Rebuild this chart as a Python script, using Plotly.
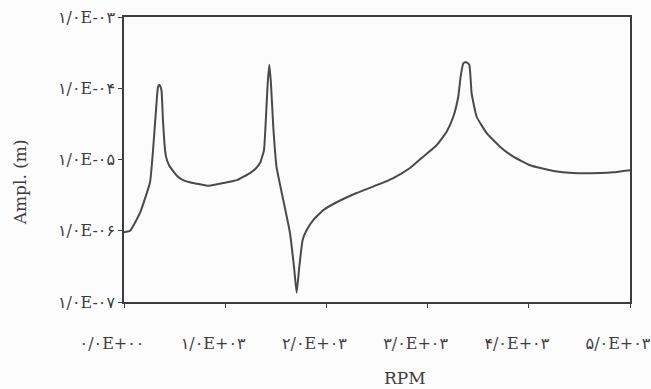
import plotly.graph_objects as go

# Rotor response: amplitude vs shaft speed
rpm = [0, 60, 158, 257, 287, 316, 336, 349, 362, 372, 385, 400, 415, 445, 484,
       530, 583, 650, 721, 830, 978, 1116, 1245, 1300, 1344, 1383, 1403, 1420,
       1436, 1452, 1475, 1508, 1574, 1640, 1680, 1706, 1732, 1765, 1805, 1870,
       1970, 2101, 2299, 2497, 2661, 2826, 2957, 3089, 3188, 3254, 3303, 3326,
       3353, 3379, 3412, 3435, 3485, 3584, 3715, 3847, 4012, 4242, 4439, 4703,
       4835, 5000]
log_ampl = [-6.02, -6.0, -5.75, -5.32, -4.87, -4.31, -3.98, -3.95, -3.98, -4.05,
            -4.45, -4.78, -4.96, -5.08, -5.16, -5.24, -5.29, -5.32, -5.34, -5.37,
            -5.33, -5.29, -5.19, -5.13, -5.05, -4.87, -4.40, -3.93, -3.67, -3.93,
            -4.54, -5.11, -5.57, -6.03, -6.51, -6.87, -6.51, -6.13, -5.99, -5.85,
            -5.71, -5.60, -5.47, -5.36, -5.26, -5.12, -4.96, -4.80, -4.61, -4.40,
            -4.12, -3.84, -3.65, -3.63, -3.67, -4.07, -4.40, -4.63, -4.82, -4.96,
            -5.08, -5.16, -5.19, -5.19, -5.18, -5.15]
ampl = [10 ** v for v in log_ampl]

x_tickvals = [0, 1000, 2000, 3000, 4000, 5000]
x_ticktext = ["۰/۰E+۰۰", "۱/۰E+۰۳", "۲/۰E+۰۳", "۳/۰E+۰۳", "۴/۰E+۰۳", "۵/۰E+۰۳"]
y_tickvals = [1e-3, 1e-4, 1e-5, 1e-6, 1e-7]
y_ticktext = ["۱/۰E-۰۳", "۱/۰E-۰۴", "۱/۰E-۰۵", "۱/۰E-۰۶", "۱/۰E-۰۷"]

# Latin glyphs in a serif face, Persian digits from DejaVu Sans
font_family = "DejaVu Serif, DejaVu Sans, serif"
ink = "#3d3d3d"

fig = go.Figure()
fig.add_trace(go.Scatter(
    x=rpm, y=ampl, mode="lines",
    line=dict(color="#4a4a4a", width=2, shape="spline", smoothing=0.4),
    hoverinfo="skip", showlegend=False,
))

fig.update_layout(
    width=651, height=389,
    margin=dict(l=124, r=21, t=17, b=87),
    paper_bgcolor="#fcfcfc", plot_bgcolor="#fcfcfc",
    font=dict(family=font_family, size=16, color=ink),
    annotations=[
        dict(text="Ampl. (m)", xref="paper", yref="paper", x=-0.2055, y=0.42,
             xanchor="center", yanchor="middle",
             textangle=-90, showarrow=False, font=dict(size=17, color=ink,
             family=font_family)),
        dict(text="RPM", xref="paper", yref="paper", x=0.555, y=-0.267,
             xanchor="center", yanchor="middle",
             showarrow=False, font=dict(size=17, color=ink, family=font_family)),
    ],
)

fig.update_xaxes(
    range=[0, 5000], tickvals=x_tickvals, ticktext=x_ticktext,
    showgrid=False, zeroline=False, automargin=False,
    showline=True, linecolor=ink, linewidth=1.5, mirror=True,
    ticks="outside", ticklen=4, tickcolor=ink,
    ticklabelstandoff=22, ticklabelshift=-12, ticklabeloverflow="allow",
)
fig.update_yaxes(
    type="log", range=[-7, -3], tickvals=y_tickvals, ticktext=y_ticktext,
    showgrid=False, zeroline=False, automargin=False,
    showline=True, linecolor=ink, linewidth=1.5, mirror=True,
    ticks="outside", ticklen=4, tickcolor=ink,
)

fig.write_html("out.html")
